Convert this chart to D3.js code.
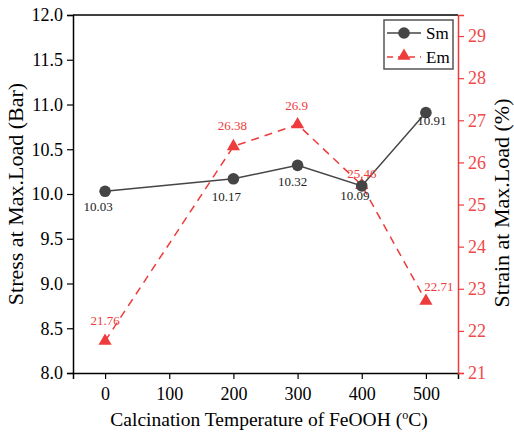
<!DOCTYPE html>
<html lang="en">
<head>
<meta charset="utf-8">
<title>Sm / Em vs calcination temperature</title>
<style>
    body { margin: 0; background: #fff; }
</style>
</head>
<body>
<script src="https://cdn.jsdelivr.net/npm/d3@7"></script>
<script>
    var temps = [0, 200, 300, 400, 500];
    var smValues = [10.03, 10.17, 10.32, 10.09, 10.91];
    var emValues = [21.76, 26.38, 26.9, 25.46, 22.71];
    var xTicks = [0, 100, 200, 300, 400, 500];
    var leftTicks = [8.0, 8.5, 9.0, 9.5, 10.0, 10.5, 11.0, 11.5, 12.0];
    var rightTicks = [21, 22, 23, 24, 25, 26, 27, 28, 29];

    var W = 514, H = 435;
    var margin = {top: 15, right: 56, bottom: 62, left: 73};
    var width = W - margin.left - margin.right,
        height = H - margin.top - margin.bottom;
    var red = "#ee3b3b", tickRed = "#f04848", grey = "#454545";
    var FONT = "'Liberation Serif'";

    var svg = d3.select("body").append("svg")
        .attr("width", W).attr("height", H)
        .style("font-family", FONT);
    var g = svg.append("g")
        .attr("transform", "translate(" + margin.left + "," + margin.top + ")");

    var x = d3.scaleLinear().domain([-50, 550]).range([0, width]);
    var yL = d3.scaleLinear().domain([8, 12]).range([height, 0]);
    var yR = d3.scaleLinear().domain([21, 29.5]).range([height, 0]);

    // top frame line
    g.append("line").attr("x1", 0).attr("x2", width).attr("y1", 0).attr("y2", 0)
        .attr("stroke", "#000").attr("stroke-width", 1.5);

    function styleAxis(sel, color, textColor) {
        sel.attr("font-family", null).attr("font-size", null);
        sel.select(".domain").attr("stroke", color).attr("stroke-width", 1.5);
        sel.selectAll(".tick line").attr("stroke", color).attr("stroke-width", 1.2);
        sel.selectAll("text").attr("fill", textColor)
            .style("font-family", FONT).style("font-size", "18px");
    }

    var gx = g.append("g").attr("transform", "translate(0," + height + ")");
    gx.call(d3.axisBottom(x).tickValues(d3.range(-50, 551, 50)).tickSize(3).tickFormat(""));
    gx.call(d3.axisBottom(x).tickValues(xTicks).tickSize(6).tickPadding(8).tickFormat(d3.format("d")));
    styleAxis(gx, "#000", "#000");

    var gl = g.append("g");
    gl.call(d3.axisLeft(yL).tickValues(d3.range(8, 12.01, 0.25)).tickSize(3).tickFormat(""));
    gl.call(d3.axisLeft(yL).tickValues(leftTicks).tickSize(6).tickPadding(4).tickFormat(d3.format(".1f")));
    styleAxis(gl, "#000", "#000");

    var gr = g.append("g").attr("transform", "translate(" + width + ",0)");
    gr.call(d3.axisRight(yR).tickValues(d3.range(21, 29.51, 0.5)).tickSize(3).tickFormat(""));
    gr.call(d3.axisRight(yR).tickValues(rightTicks).tickSize(6).tickPadding(4).tickFormat(d3.format("d")));
    styleAxis(gr, red, tickRed);

    // axis titles
    svg.append("text")
        .attr("transform", "translate(23,194) rotate(-90)")
        .attr("text-anchor", "middle").style("font-family", FONT).style("font-size", "22px").attr("fill", "#000")
        .text("Stress at Max.Load (Bar)");
    svg.append("text")
        .attr("transform", "translate(509,203) rotate(-90)")
        .attr("text-anchor", "middle").style("font-family", FONT).style("font-size", "22px").attr("fill", "#000")
        .text("Strain at Max.Load (%)");
    var xt = svg.append("text")
        .attr("x", 269).attr("y", 426)
        .attr("text-anchor", "middle").style("font-family", FONT).style("font-size", "19.5px").attr("fill", "#000");
    xt.append("tspan").text("Calcination Temperature of FeOOH (");
    xt.append("tspan").attr("dy", -7).style("font-size", "12px").text("o");
    xt.append("tspan").attr("dy", 7).text("C)");

    var sm = temps.map(function (t, i) { return {t: t, v: smValues[i]}; });
    var em = temps.map(function (t, i) { return {t: t, v: emValues[i]}; });

    // Em dashed line
    g.append("path").datum(em)
        .attr("d", d3.line().x(function (d) { return x(d.t); }).y(function (d) { return yR(d.v); }))
        .attr("fill", "none").attr("stroke", red).attr("stroke-width", 1.5)
        .attr("stroke-dasharray", "8,6");
    // Sm line
    g.append("path").datum(sm)
        .attr("d", d3.line().x(function (d) { return x(d.t); }).y(function (d) { return yL(d.v); }))
        .attr("fill", "none").attr("stroke", grey).attr("stroke-width", 1.5);

    var tri = d3.symbol().type(d3.symbolTriangle).size(75);
    g.selectAll(".em").data(em).enter().append("path")
        .attr("class", "em")
        .attr("d", tri)
        .attr("transform", function (d) { return "translate(" + x(d.t) + "," + yR(d.v) + ")"; })
        .attr("fill", red);
    g.selectAll(".sm").data(sm).enter().append("circle")
        .attr("class", "sm")
        .attr("cx", function (d) { return x(d.t); })
        .attr("cy", function (d) { return yL(d.v); })
        .attr("r", 5.8).attr("fill", grey);

    // value labels
    var smDx = [-7, -7, -5, -7, 6];
    var smDy = [20, 22, 21, 14, 12];
    g.selectAll(".smlab").data(sm).enter().append("text")
        .attr("x", function (d, i) { return x(d.t) + smDx[i]; })
        .attr("y", function (d, i) { return yL(d.v) + smDy[i]; })
        .attr("text-anchor", "middle").style("font-family", FONT).style("font-size", "13px").attr("fill", "#222")
        .text(function (d) { return d.v.toFixed(2); });
    var emDx = [0, -1, -1, 0, 13];
    var emDy = [-16, -16, -15, -7, -10];
    g.selectAll(".emlab").data(em).enter().append("text")
        .attr("x", function (d, i) { return x(d.t) + emDx[i]; })
        .attr("y", function (d, i) { return yR(d.v) + emDy[i]; })
        .attr("text-anchor", "middle").style("font-family", FONT).style("font-size", "13px").attr("fill", red)
        .text(function (d) { return String(d.v); });

    // legend
    var lg = svg.append("g").attr("transform", "translate(384,20)");
    lg.append("rect").attr("width", 69).attr("height", 49)
        .attr("fill", "#fff").attr("stroke", "#555").attr("stroke-width", 1.5);
    lg.append("line").attr("x1", 3).attr("x2", 37).attr("y1", 13).attr("y2", 13)
        .attr("stroke", grey).attr("stroke-width", 1.5);
    lg.append("circle").attr("cx", 20).attr("cy", 13).attr("r", 5.8).attr("fill", grey);
    lg.append("text").attr("x", 42).attr("y", 19).style("font-family", FONT).style("font-size", "17px").text("Sm");
    lg.append("line").attr("x1", 3).attr("x2", 37).attr("y1", 37).attr("y2", 37)
        .attr("stroke", red).attr("stroke-width", 1.5).attr("stroke-dasharray", "6,5");
    lg.append("path").attr("d", tri).attr("transform", "translate(20,36)").attr("fill", red);
    lg.append("text").attr("x", 42).attr("y", 43).style("font-family", FONT).style("font-size", "17px").text("Em");
</script>
</body>
</html>
